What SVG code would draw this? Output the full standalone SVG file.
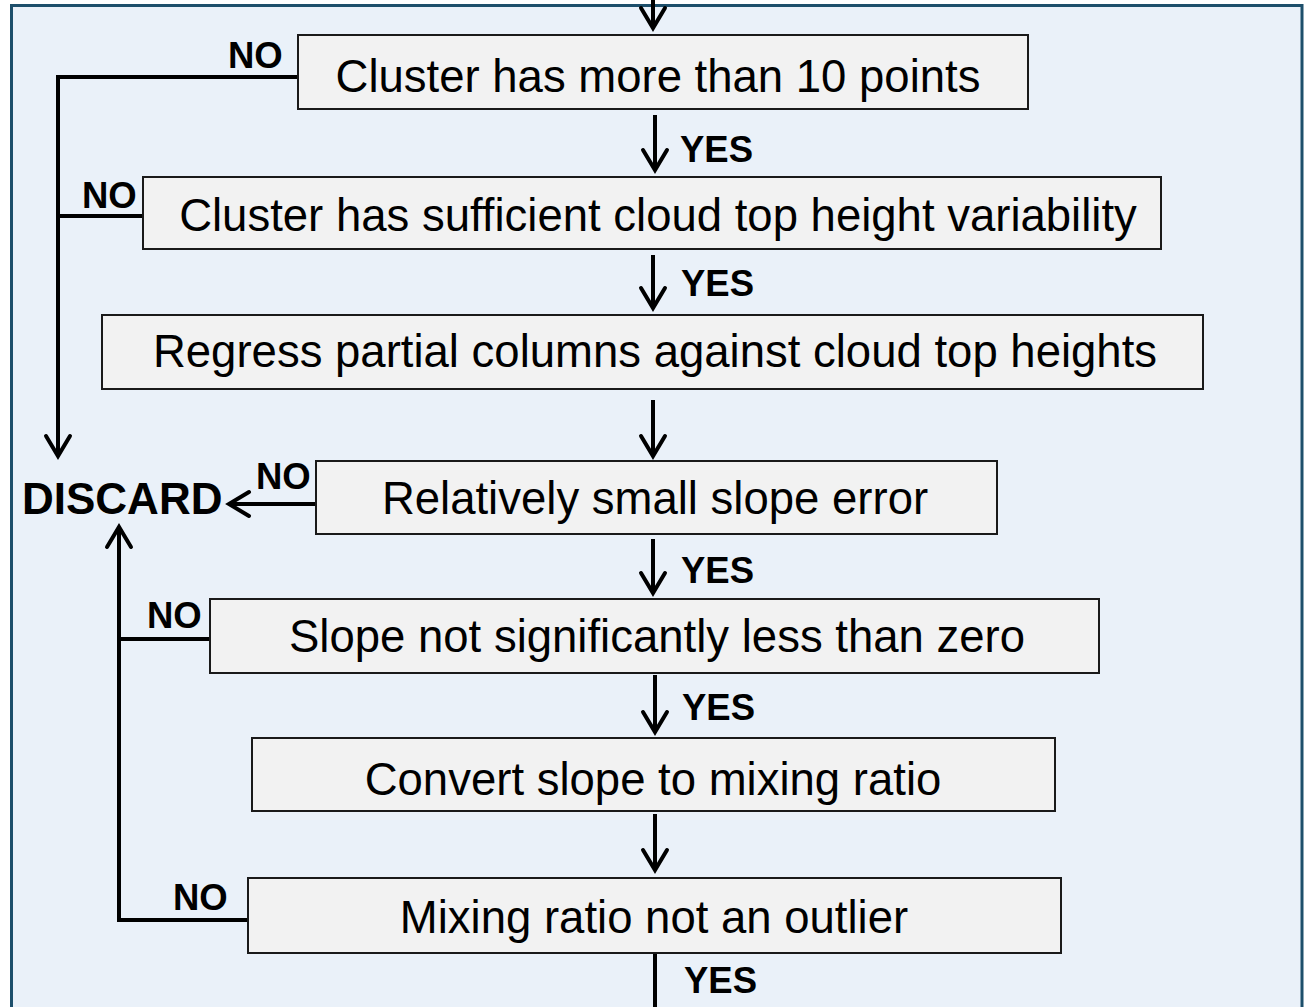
<svg xmlns="http://www.w3.org/2000/svg" width="1311" height="1007" viewBox="0 0 1311 1007">
  <style>
    .frame { fill: #eaf1f9; stroke: #1d4f6b; stroke-width: 3; }
    .box { fill: #f2f2f2; stroke: #1a1a1a; stroke-width: 2; }
    .txt { font-family: "Liberation Sans", Arial, sans-serif; font-size: 45.5px; fill: #000; text-anchor: middle; }
    .lbl { font-family: "Liberation Sans", Arial, sans-serif; font-size: 36.5px; font-weight: bold; fill: #000; }
    .big { font-family: "Liberation Sans", Arial, sans-serif; font-size: 44px; font-weight: bold; fill: #000; }
    .wire { fill: none; stroke: #000; stroke-width: 4; }
  </style>
  <defs>
    <marker id="head" markerUnits="userSpaceOnUse" markerWidth="30" markerHeight="30" viewBox="-24 -15 30 30" refX="0" refY="0" orient="auto">
      <path d="M-20,-12 L0,0 L-20,12" fill="none" stroke="#000" stroke-width="4" stroke-linecap="round" stroke-linejoin="miter"/>
    </marker>
  </defs>

  <!-- panel -->
  <rect class="frame" x="11.5" y="5.5" width="1290.5" height="1020"/>

  <!-- connectors -->
  <g id="connectors">
    <!-- main flow -->
    <line class="wire" x1="653" y1="-4" x2="653" y2="28" marker-end="url(#head)"/>
    <line class="wire" x1="655" y1="115" x2="655" y2="170" marker-end="url(#head)"/>
    <line class="wire" x1="653" y1="255" x2="653" y2="308" marker-end="url(#head)"/>
    <line class="wire" x1="653" y1="400" x2="653" y2="456" marker-end="url(#head)"/>
    <line class="wire" x1="653" y1="539" x2="653" y2="593" marker-end="url(#head)"/>
    <line class="wire" x1="655" y1="675" x2="655" y2="732" marker-end="url(#head)"/>
    <line class="wire" x1="655" y1="814" x2="655" y2="870" marker-end="url(#head)"/>
    <line class="wire" x1="655" y1="953" x2="655" y2="1010"/>
    <!-- rejection paths -->
    <polyline class="wire" points="298,77 58,77 58,456" marker-end="url(#head)"/>
    <line class="wire" x1="143" y1="216" x2="60" y2="216"/>
    <line class="wire" x1="316" y1="504" x2="229" y2="504" marker-end="url(#head)"/>
    <polyline class="wire" points="248,920 119,920 119,527" marker-end="url(#head)"/>
    <line class="wire" x1="210" y1="639" x2="119" y2="639"/>
  </g>

  <!-- labels on connectors -->
  <g id="labels">
    <text class="lbl" x="228" y="68">NO</text>
    <text class="lbl" x="82" y="208">NO</text>
    <text class="lbl" x="256" y="489">NO</text>
    <text class="lbl" x="147" y="628">NO</text>
    <text class="lbl" x="173" y="910">NO</text>
    <text class="lbl" x="680" y="162">YES</text>
    <text class="lbl" x="681" y="296">YES</text>
    <text class="lbl" x="681" y="583">YES</text>
    <text class="lbl" x="682" y="720">YES</text>
    <text class="lbl" x="684" y="993">YES</text>
  </g>

  <g id="discard">
    <text class="big" x="22" y="514">DISCARD</text>
  </g>

  <g id="n-points">
    <rect class="box" x="298" y="35" width="730" height="74"/>
    <text class="txt" x="658" y="92">Cluster has more than 10 points</text>
  </g>
  <g id="n-variability">
    <rect class="box" x="143" y="177" width="1018" height="72"/>
    <text class="txt" x="658" y="231">Cluster has sufficient cloud top height variability</text>
  </g>
  <g id="n-regress">
    <rect class="box" x="102" y="315" width="1101" height="74"/>
    <text class="txt" x="655" y="367">Regress partial columns against cloud top heights</text>
  </g>
  <g id="n-slope-error">
    <rect class="box" x="316" y="461" width="681" height="73"/>
    <text class="txt" x="655" y="514">Relatively small slope error</text>
  </g>
  <g id="n-slope-sign">
    <rect class="box" x="210" y="599" width="889" height="74"/>
    <text class="txt" x="657" y="652">Slope not significantly less than zero</text>
  </g>
  <g id="n-convert">
    <rect class="box" x="252" y="738" width="803" height="73"/>
    <text class="txt" x="653" y="795">Convert slope to mixing ratio</text>
  </g>
  <g id="n-outlier">
    <rect class="box" x="248" y="878" width="813" height="75"/>
    <text class="txt" x="654" y="933">Mixing ratio not an outlier</text>
  </g>
</svg>
